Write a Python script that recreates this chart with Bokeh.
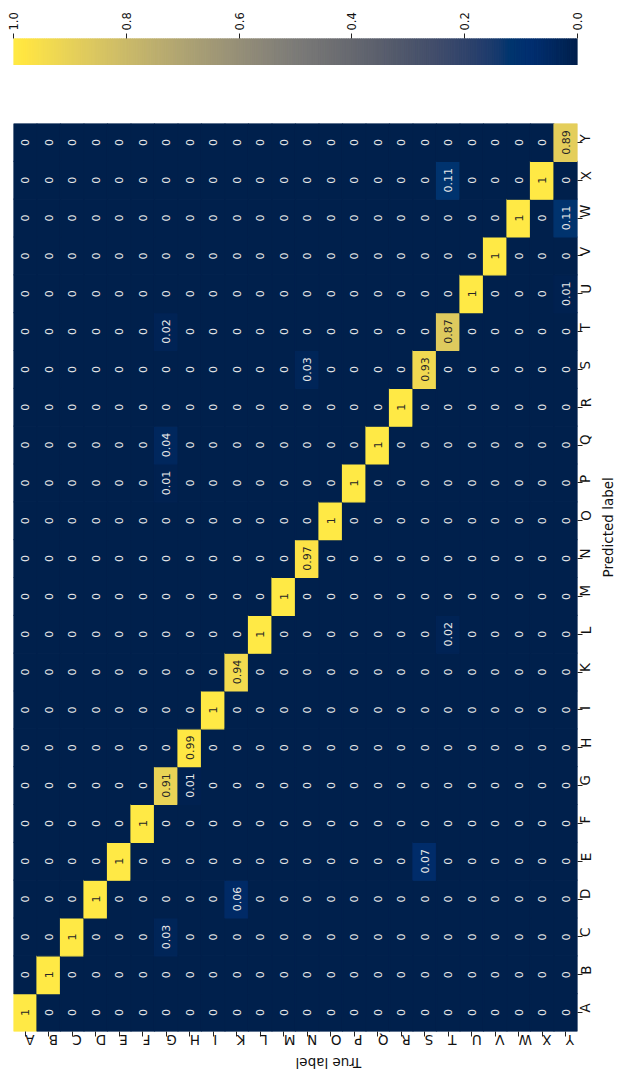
import math
import numpy as np
from bokeh.plotting import figure
from bokeh.layouts import column
from bokeh.models import ColumnDataSource, LinearColorMapper, FixedTicker, Range1d, FactorRange, NumeralTickFormatter
from bokeh.palettes import Cividis256
from bokeh.transform import transform
from bokeh.core.properties import value, field
from bokeh.embed import file_html
from bokeh.resources import INLINE

# ---------------- data ----------------
letters = ["A", "B", "C", "D", "E", "F", "G", "H", "I", "K", "L", "M",
           "N", "O", "P", "Q", "R", "S", "T", "U", "V", "W", "X", "Y"]
diagonal = [1, 1, 1, 1, 1, 1, 0.91, 0.99, 1, 0.94, 1, 1,
            0.97, 1, 1, 1, 1, 0.93, 0.87, 1, 1, 1, 1, 0.89]
err_true = ["G", "G", "G", "G", "H", "K", "N", "S", "T", "T", "Y", "Y"]
err_pred = ["C", "P", "Q", "T", "G", "D", "S", "E", "L", "X", "U", "W"]
err_vals = [0.03, 0.01, 0.04, 0.02, 0.01, 0.06, 0.03, 0.07, 0.02, 0.11, 0.01, 0.11]
cbar_ticks = [0.0, 0.2, 0.4, 0.6, 0.8, 1.0]

# ---------------- matrix ----------------
n = len(letters)
idx = {l: i for i, l in enumerate(letters)}
M = np.zeros((n, n))
for i, d in enumerate(diagonal):
    M[i, i] = d
for t, pr, v in zip(err_true, err_pred, err_vals):
    M[idx[t], idx[pr]] = v


def lum(hexc):
    r, g, b = (int(hexc[k:k + 2], 16) / 255 for k in (1, 3, 5))
    def c(x):
        return x / 12.92 if x <= 0.03928 else ((x + 0.055) / 1.055) ** 2.4
    return 0.2126 * c(r) + 0.7152 * c(g) + 0.0722 * c(b)


xs, ys, vals, labs, tcs = [], [], [], [], []
for i in range(n):
    for j in range(n):
        v = M[i, j]
        xs.append(letters[i])
        ys.append(letters[j])
        vals.append(v)
        labs.append(format(v, ".2g"))
        col = Cividis256[min(255, int(round(v * 255)))]
        tcs.append("#262626" if lum(col) > 0.408 else "#e8e8e8")

src = ColumnDataSource(dict(t=xs, p=ys, v=vals, lab=labs, tc=tcs))
mapper = LinearColorMapper(palette=Cividis256, low=0, high=1)

FONT = "DejaVu Sans"

# ---------------- heatmap ----------------
p = figure(x_range=FactorRange(*letters), y_range=FactorRange(*letters),
           frame_width=564, frame_height=908,
           x_axis_location="below", y_axis_location="right",
           min_border_left=13, min_border_top=58, min_border_right=0, min_border_bottom=0,
           output_backend="svg", toolbar_location=None)
p.rect(x="t", y="p", width=1, height=1, source=src,
       fill_color=transform("v", mapper), line_color=transform("v", mapper), line_width=1.2)
p.text(x="t", y="p", text="lab", source=src, angle=math.pi / 2,
       text_align="center", text_baseline="middle",
       text_font=value(FONT), text_font_size="11px", text_color=field("tc"))

p.outline_line_color = None
p.grid.grid_line_color = None
for ax in (p.xaxis[0], p.yaxis[0]):
    ax.axis_line_color = None
    ax.major_tick_in = 0
    ax.major_tick_out = 5
    ax.major_tick_line_color = "#222222"
    ax.major_label_text_font = FONT
    ax.major_label_text_font_size = "13.5px"
    ax.major_label_text_color = "#111111"
    ax.major_label_standoff = 3
    ax.axis_label_text_font = FONT
    ax.axis_label_text_font_size = "13.5px"
    ax.axis_label_text_font_style = "normal"
    ax.axis_label_text_color = "#111111"

p.xaxis.axis_label = "True label"
p.xaxis.major_label_orientation = math.pi
p.xaxis.axis_label_standoff = 4
p.yaxis.axis_label = "Predicted label"
p.yaxis.major_label_orientation = math.pi / 2
p.yaxis.axis_label_standoff = 3
try:
    p.xaxis[0].axis_label_orientation = math.pi
    p.yaxis[0].axis_label_orientation = math.pi / 2
except Exception:
    pass

# ---------------- colorbar ----------------
cb = figure(x_range=Range1d(1, 0), y_range=Range1d(0, 1),
            frame_width=564, frame_height=27,
            x_axis_location="above", y_axis_location=None,
            min_border_left=13, min_border_top=38, min_border_bottom=0, min_border_right=30,
            output_backend="svg", toolbar_location=None)
edges = np.linspace(0, 1, len(Cividis256) + 1)
cb.quad(left=edges[:-1], right=edges[1:], bottom=0, top=1,
        fill_color=list(Cividis256), line_color=list(Cividis256), line_width=1.2)
cb.outline_line_color = None
cb.grid.grid_line_color = None
cax = cb.xaxis[0]
cax.ticker = FixedTicker(ticks=cbar_ticks)
cax.formatter = NumeralTickFormatter(format="0.0")
cax.axis_line_color = None
cax.major_tick_in = 0
cax.major_tick_out = 5
cax.minor_tick_out = 0
cax.minor_tick_in = 0
cax.major_tick_line_color = "#222222"
cax.major_label_orientation = math.pi / 2
cax.major_label_standoff = 3
cax.major_label_text_font = FONT
cax.major_label_text_font_size = "11.5px"
cax.major_label_text_color = "#111111"

layout = column(cb, p, spacing=0)
open("out.html", "w").write(file_html(layout, INLINE))
